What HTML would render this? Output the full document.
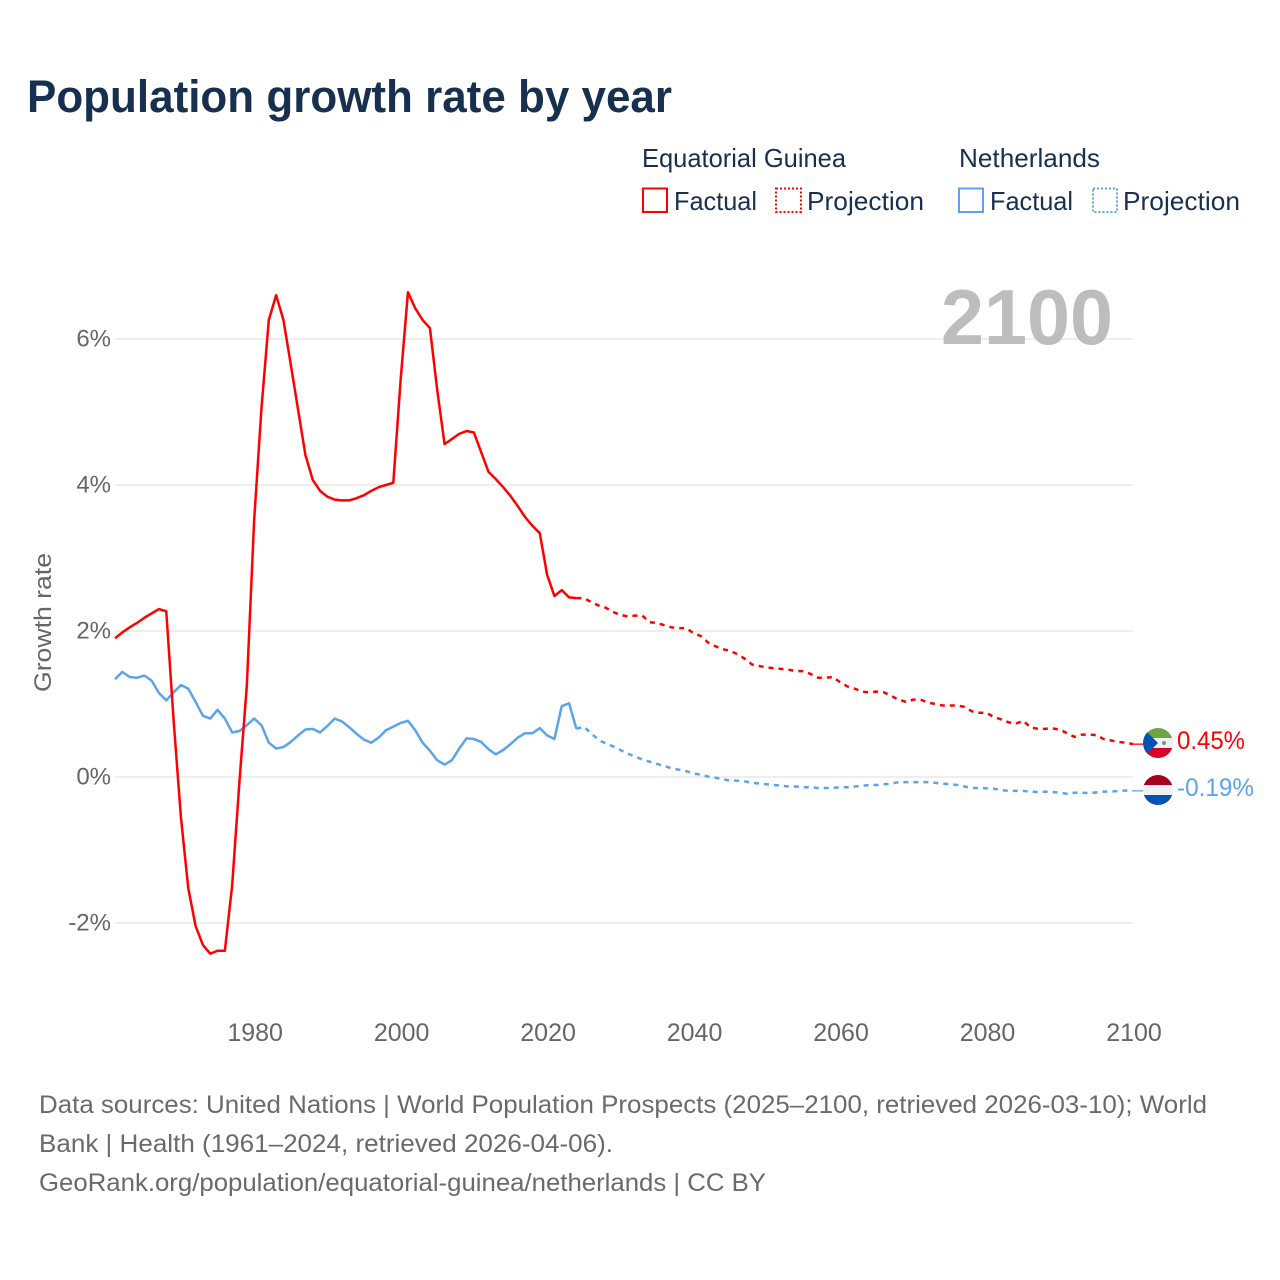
<!DOCTYPE html>
<html lang="en">
<head>
<meta charset="utf-8">
<title>Population growth rate by year</title>
<style>
  html, body { margin: 0; padding: 0; background: #fff; }
  svg { display: block; font-family: "Liberation Sans", sans-serif; }
  .tick { font-size: 24px; fill: #666; }
  .foot { font-size: 25px; fill: #6a6a6a; }
  .leg { font-size: 26px; fill: #18304f; }
</style>
</head>
<body>
<svg id="chart" xmlns="http://www.w3.org/2000/svg" width="1280" height="1280" viewBox="0 0 1280 1280">
  <rect x="0" y="0" width="1280" height="1280" fill="#fff"/>
  <text x="27" y="112" font-size="45" font-weight="700" fill="#18304f" textLength="645" lengthAdjust="spacingAndGlyphs">Population growth rate by year</text>

  <g>
    <text class="leg" x="642" y="167" textLength="204" lengthAdjust="spacingAndGlyphs">Equatorial Guinea</text>
    <text class="leg" x="959" y="167" textLength="141" lengthAdjust="spacingAndGlyphs">Netherlands</text>
    <rect x="643" y="188.5" width="24" height="23.5" fill="none" stroke="#ff0000" stroke-width="2"/>
    <text class="leg" x="674" y="210" textLength="83" lengthAdjust="spacingAndGlyphs">Factual</text>
    <rect x="776" y="188.5" width="25" height="23.5" fill="none" stroke="#ff0000" stroke-width="2" stroke-dasharray="2 2"/>
    <text class="leg" x="807" y="210" textLength="117" lengthAdjust="spacingAndGlyphs">Projection</text>
    <rect x="959" y="188.5" width="24" height="23.5" fill="none" stroke="#5ba4ec" stroke-width="2"/>
    <text class="leg" x="990" y="210" textLength="83" lengthAdjust="spacingAndGlyphs">Factual</text>
    <rect x="1093" y="188.5" width="24" height="23.5" fill="none" stroke="#5ba4ec" stroke-width="2" stroke-dasharray="2 2"/>
    <text class="leg" x="1123" y="210" textLength="117" lengthAdjust="spacingAndGlyphs">Projection</text>
  </g>

  <g id="grid"></g>
  <text x="941" y="344" font-size="78" font-weight="700" fill="#bdbdbd" textLength="172" lengthAdjust="spacingAndGlyphs">2100</text>
  <g id="yticks"></g>
  <g id="xticks"></g>
  <text class="tick" x="0" y="0" transform="translate(51,692) rotate(-90)" textLength="139" lengthAdjust="spacingAndGlyphs">Growth rate</text>

  <g id="series"></g>

  <defs>
    <clipPath id="clip-eg"><circle id="clip-eg-c" cx="1158" cy="743" r="15"/></clipPath>
    <clipPath id="clip-nl"><circle id="clip-nl-c" cx="1158" cy="790" r="15"/></clipPath>
  </defs>
  <g id="flag-eg" clip-path="url(#clip-eg)">
    <rect x="1143" y="728" width="30" height="10" fill="#6da544"/>
    <rect x="1143" y="738" width="30" height="10" fill="#f0f0f0"/>
    <rect x="1143" y="748" width="30" height="10" fill="#d80027"/>
    <polygon points="1143,728 1158,743 1143,758" fill="#0052b4"/>
    <circle cx="1164" cy="743" r="2" fill="#7a9a6a"/>
  </g>
  <g id="flag-nl" clip-path="url(#clip-nl)">
    <rect x="1143" y="775" width="30" height="10" fill="#a2001d"/>
    <rect x="1143" y="785" width="30" height="10" fill="#f0f0f0"/>
    <rect x="1143" y="795" width="30" height="10" fill="#0052b4"/>
  </g>
  <text id="end-eg" x="1177" y="749" font-size="25" fill="#ff0000" textLength="68" lengthAdjust="spacingAndGlyphs"></text>
  <text id="end-nl" x="1177" y="796" font-size="25" fill="#5ba4ec" textLength="77" lengthAdjust="spacingAndGlyphs"></text>

  <g>
    <text class="foot" x="39" y="1113" textLength="1168" lengthAdjust="spacingAndGlyphs">Data sources: United Nations | World Population Prospects (2025–2100, retrieved 2026-03-10); World</text>
    <text class="foot" x="39" y="1152" textLength="574" lengthAdjust="spacingAndGlyphs">Bank | Health (1961–2024, retrieved 2026-04-06).</text>
    <text class="foot" x="39" y="1191" textLength="727" lengthAdjust="spacingAndGlyphs">GeoRank.org/population/equatorial-guinea/netherlands | CC BY</text>
  </g>
</svg>

<script>
const firstYear = 1961;
const lastFactualYear = 2024;
const xTickYears = [1980, 2000, 2020, 2040, 2060, 2080, 2100];
const yTickValues = [-2, 0, 2, 4, 6];

const egFactual = [1.90,1.98,2.05,2.11,2.18,2.24,2.30,2.27,0.78,-0.55,-1.52,-2.04,-2.30,-2.42,-2.38,-2.38,-1.48,-0.05,1.25,3.52,5.05,6.26,6.60,6.26,5.65,5.03,4.41,4.07,3.92,3.84,3.80,3.79,3.79,3.82,3.86,3.92,3.97,4.00,4.03,5.44,6.64,6.42,6.26,6.15,5.30,4.56,4.63,4.70,4.74,4.72,4.45,4.18,4.08,3.97,3.85,3.71,3.56,3.44,3.34,2.77,2.48,2.56,2.46,2.45];
const egProjection = [2.45,2.40,2.35,2.32,2.26,2.22,2.20,2.21,2.21,2.12,2.11,2.08,2.05,2.04,2.04,1.97,1.93,1.84,1.79,1.75,1.73,1.68,1.62,1.54,1.52,1.50,1.49,1.48,1.47,1.45,1.45,1.41,1.36,1.36,1.37,1.30,1.24,1.21,1.17,1.16,1.17,1.16,1.11,1.06,1.03,1.06,1.06,1.02,1.00,0.98,0.98,0.98,0.96,0.90,0.88,0.88,0.82,0.79,0.75,0.73,0.77,0.68,0.66,0.66,0.665,0.65,0.60,0.55,0.58,0.58,0.575,0.52,0.50,0.48,0.47,0.45];
const nlFactual = [1.34,1.44,1.37,1.36,1.39,1.32,1.15,1.05,1.16,1.26,1.21,1.03,0.84,0.80,0.92,0.80,0.61,0.63,0.71,0.80,0.71,0.47,0.39,0.41,0.48,0.57,0.65,0.66,0.61,0.70,0.80,0.76,0.68,0.59,0.51,0.47,0.54,0.64,0.69,0.74,0.77,0.64,0.47,0.36,0.23,0.17,0.23,0.39,0.53,0.52,0.48,0.38,0.31,0.37,0.45,0.54,0.60,0.60,0.67,0.57,0.52,0.97,1.01,0.66];
const nlProjection = [0.69,0.60,0.51,0.46,0.42,0.37,0.32,0.28,0.24,0.21,0.18,0.15,0.12,0.10,0.08,0.05,0.03,0.005,-0.01,-0.03,-0.05,-0.05,-0.06,-0.08,-0.09,-0.10,-0.11,-0.12,-0.13,-0.13,-0.14,-0.14,-0.15,-0.15,-0.15,-0.14,-0.14,-0.13,-0.12,-0.11,-0.11,-0.10,-0.09,-0.07,-0.07,-0.07,-0.07,-0.07,-0.08,-0.09,-0.10,-0.11,-0.13,-0.15,-0.15,-0.155,-0.16,-0.18,-0.19,-0.19,-0.19,-0.20,-0.205,-0.20,-0.205,-0.215,-0.23,-0.215,-0.215,-0.22,-0.21,-0.20,-0.20,-0.19,-0.185,-0.19];

const SVG_NS = 'http://www.w3.org/2000/svg';
const X0 = 115, X1 = 1133, Y_ZERO = 777, PX_PER_PCT = 73;
const RED = '#ff0000', BLUE = '#5ba4ec';
const xAxis = year => X0 + (year - firstYear) * (X1 - X0) / (2100 - firstYear);
const yAxis = value => Y_ZERO - value * PX_PER_PCT;

function make(tag, parent, attrs) {
  const el = document.createElementNS(SVG_NS, tag);
  for (const key in attrs) el.setAttribute(key, attrs[key]);
  parent.appendChild(el);
  return el;
}

const gridGroup = document.getElementById('grid');
const yTickGroup = document.getElementById('yticks');
const xTickGroup = document.getElementById('xticks');
const seriesGroup = document.getElementById('series');

yTickValues.forEach(v => {
  const line = make('line', gridGroup, { x1: X0, x2: X1, y1: yAxis(v), y2: yAxis(v), stroke: '#e9e9e9', 'stroke-width': 1.5 });
  
  
  const label = make('text', yTickGroup, { x: 111, y: yAxis(v) + 7.5, 'text-anchor': 'end', class: 'tick' });
  
  
  label.textContent = v + '%';
});

xTickYears.forEach(year => {
  const label = make('text', xTickGroup, { x: xAxis(year) + 1, y: 1041, 'text-anchor': 'middle', class: 'tick', style: 'font-size:25px' });
  
  
  label.textContent = year;
});

function pathFrom(values, startYear) {
  return values.map((v, i) => (i ? 'L' : 'M') + xAxis(startYear + i).toFixed(2) + ' ' + yAxis(v).toFixed(2)).join(' ');
}

function drawLine(values, startYear, color, dashed, name) {
  const attrs = { d: pathFrom(values, startYear), fill: 'none', stroke: color, 'stroke-width': 2.5, 'stroke-linejoin': 'round' };
  if (dashed) attrs['stroke-dasharray'] = '5 5';
  const path = make('path', seriesGroup, attrs);
  
  
}

drawLine(nlFactual, firstYear, BLUE, false, 'line-netherlands-factual');
drawLine(egFactual, firstYear, RED, false, 'line-equatorial-guinea-factual');
drawLine([nlFactual[nlFactual.length - 1]].concat(nlProjection), lastFactualYear, BLUE, true, 'line-netherlands-projection');
drawLine([egFactual[egFactual.length - 1]].concat(egProjection), lastFactualYear, RED, true, 'line-equatorial-guinea-projection');

const egEnd = egProjection[egProjection.length - 1];
const nlEnd = nlProjection[nlProjection.length - 1];

const egLead = make('line', seriesGroup, { x1: X1, x2: 1143, y1: yAxis(egEnd), y2: yAxis(egEnd), stroke: RED, 'stroke-width': 1.3 });


const nlLead = make('line', seriesGroup, { x1: X1, x2: 1143, y1: yAxis(nlEnd), y2: yAxis(nlEnd), stroke: BLUE, 'stroke-width': 1.3 });



document.getElementById('end-eg').textContent = egEnd.toFixed(2) + '%';
document.getElementById('end-nl').textContent = nlEnd.toFixed(2) + '%';
</script>
</body>
</html>
